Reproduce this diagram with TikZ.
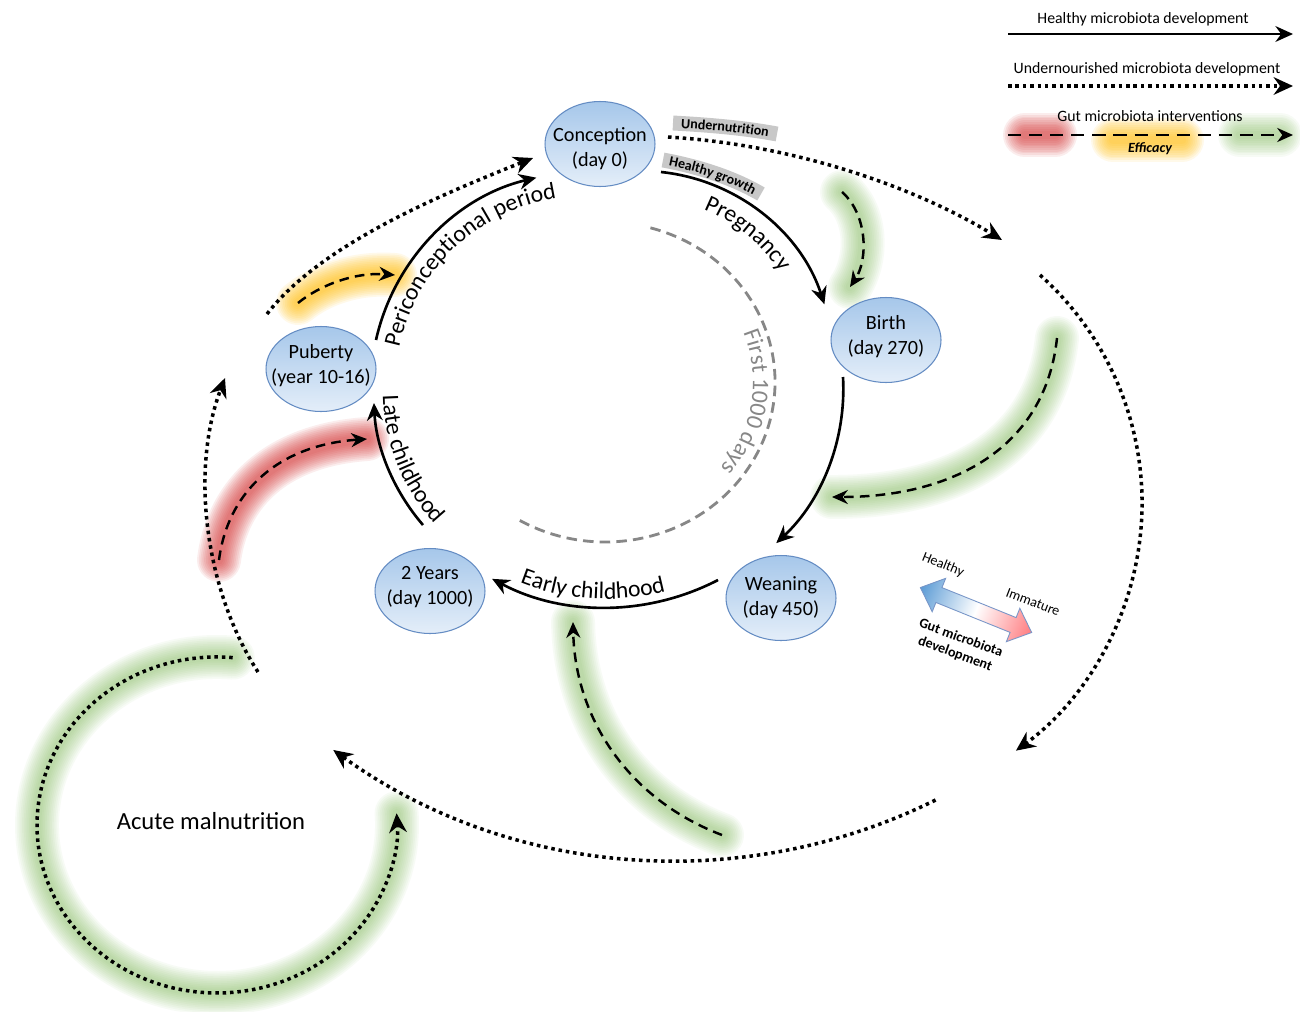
\documentclass[tikz,border=0pt]{standalone}
\usepackage{fontspec}
\setmainfont{Carlito}
\usetikzlibrary{arrows.meta,decorations.text,calc,shapes.geometric}
\pgfdeclarelayer{glow}
\pgfsetlayers{glow,main}
\definecolor{nodetop}{RGB}{166,199,234}
\definecolor{nodebot}{RGB}{228,238,249}
\definecolor{nodeline}{RGB}{100,140,195}
\definecolor{glowgreen}{RGB}{110,178,70}
\definecolor{glowred}{RGB}{213,47,47}
\definecolor{glowyellow}{RGB}{255,188,0}
\definecolor{bandgray}{RGB}{200,200,200}
\definecolor{thousand}{RGB}{135,135,135}
\definecolor{gradblue}{RGB}{91,155,213}
\definecolor{gradred}{RGB}{255,124,128}
\definecolor{gradline}{RGB}{120,150,200}
\newcommand\nodefont{\fontsize{11.5}{14.2}\selectfont}
\newcommand\curvefont{\fontsize{13.5}{16}\selectfont}
\newcommand\legfont{\fontsize{9}{11}\selectfont}
\newcommand\bandfont{\fontsize{8}{9}\selectfont\bfseries}
\newcommand\legsmall{\fontsize{8}{9.5}\selectfont}
\newcommand\acutefont{\fontsize{14}{17}\selectfont}
\newcommand\glowpath[3]{\foreach \w in {25,23,...,5} {\path[draw=#1, line width=\w pt, draw opacity=#2, line cap=round] #3;}}
\begin{document}
\begin{tikzpicture}[x=0.02cm,y=0.02cm,
 stage/.style={ellipse, minimum width=2.2cm, minimum height=1.7cm, inner sep=0pt, draw=nodeline, line width=0.6pt, top color=nodetop, bottom color=nodebot},
 stagetext/.style={align=center, font=\nodefont, inner sep=0pt},
 healthy/.style={line width=1.5pt, -{Stealth[length=10pt,width=9pt]}},
 under/.style={line width=2pt, dash pattern=on 2pt off 2.2pt, -{Stealth[length=11pt,width=10pt]}},
 interv/.style={line width=1.4pt, dash pattern=on 5.5pt off 3.5pt, -{Stealth[length=9pt,width=8pt]}},
 days/.style={draw=thousand, line width=1.6pt, dash pattern=on 6pt off 3.5pt},
 band/.style={draw=bandgray, line width=8.5pt},
]
\useasboundingbox (0,0) rectangle (1300,-1011);

% ---------- stages
\node[stage] (conc) at (600,-144) {};
\node[stage] (birth) at (886,-340) {};
\node[stage] (wean) at (781,-598) {};
\node[stage] (two) at (430,-591) {};
\node[stage] (pub) at (321,-369) {};
\node[stagetext, yshift=-2.6pt] (conct) at (conc) {Conception\\(day 0)};
\node[stagetext, yshift=2.2pt] (birtht) at (birth) {Birth\\(day 270)};
\node[stagetext] (weant) at (wean) {Weaning\\(day 450)};
\node[stagetext, yshift=2.2pt] (twot) at (two) {2 Years\\(day 1000)};
\node[stagetext, yshift=1.7pt] (pubt) at (pub) {Puberty\\(year 10-16)};

% ---------- coordinates
\coordinate (a1s) at ($(pub)+(55,29)$);
\coordinate (a2s) at ($(conc)+(61,-28)$);
\coordinate (a3s) at ($(birth)+(-43,-37)$);
\coordinate (a4s) at ($(wean)+(-63,18)$);
\coordinate (a5s) at ($(two)+(-7,66)$);
\coordinate (u1s) at ($(conc)+(68,7)$);
\coordinate (u1e) at (1002,-240);
\coordinate (u2s) at (1040,-275);
\coordinate (u3s) at (935.6,-800);
\coordinate (u4s) at (258,-672);
\coordinate (u4e) at (225,-378);
\coordinate (u5s) at (267,-314);
\coordinate (u5e) at ($(conc)+(-67,-14)$);
\coordinate (u6s) at (232.7,-657.6);
\coordinate (d1s) at (298,-303);
\coordinate (d1e) at (395,-275);
\coordinate (d2s) at (219,-560);
\coordinate (d2e) at (367,-439);
\coordinate (d3s) at (842,-192);
\coordinate (d3e) at (850,-287);
\coordinate (d4s) at (1057,-338);
\coordinate (d4e) at (832,-497);
\coordinate (d5s) at (722,-835);
\coordinate (d5e) at (573,-622);
\coordinate (fd) at (605,-382);

% ---------- background and glows
\begin{pgfonlayer}{glow}
\fill[white] (0,0) rectangle (1300,-1011);
\glowpath{glowyellow}{0.085}{(d1s) .. controls (320,-285) and (355,-272) .. (d1e)}
\glowpath{glowred}{0.085}{(d2s) .. controls (228,-490) and (280,-445) .. (d2e)}
\glowpath{glowgreen}{0.05}{(d3s) .. controls (868,-215) and (868,-260) .. (d3e)}
\glowpath{glowgreen}{0.05}{(d4s) .. controls (1045,-450) and (950,-497) .. (d4e)}
\glowpath{glowgreen}{0.05}{(d5s) .. controls (630,-800) and (575,-720) .. (d5e)}
\glowpath{glowgreen}{0.05}{(u6s) arc[start angle=85,end angle=364,x radius=180,y radius=168]}
\glowpath{glowred}{0.085}{(1025,-135) -- (1055,-135)}
\glowpath{glowyellow}{0.085}{(1113,-140) -- (1182,-140)}
\glowpath{glowgreen}{0.05}{(1240,-135) -- (1280,-135)}
\end{pgfonlayer}

% ---------- grey bands
\draw[band] (673,-123) .. controls (710,-125) and (745,-128) .. (777,-134);
\path[decorate, decoration={text along path, text align=center, raise=-2.6pt, text={|\bandfont|Undernutrition}}] (673,-123) .. controls (710,-125) and (745,-128) .. (777,-134);
\draw[band] (663,-160) .. controls (695,-166) and (730,-176) .. (761,-194);
\path[decorate, decoration={text along path, text align=center, raise=-2.6pt, text={|\bandfont|Healthy growth}}] (663,-160) .. controls (695,-166) and (730,-176) .. (761,-194);

% ---------- first 1000 days
\draw[days] ([shift={(74.5:170 and 160)}]fd) arc[start angle=74.5,end angle=-122,x radius=170,y radius=160];
\path[decorate, decoration={text along path, text align=left, text color=thousand, text={|\curvefont|First 1000 days}}] ([shift={(21:148 and 138)}]fd) arc[start angle=21,end angle=-80,x radius=148,y radius=138];

% ---------- healthy cycle
\draw[healthy] (a1s) arc[start angle=167.4,end angle=103.3,radius=215];
\draw[healthy] (a2s) arc[start angle=84,end angle=18,radius=193];
\draw[healthy] (a3s) arc[start angle=3.2,end angle=-47,radius=211];
\draw[healthy] (a4s) arc[start angle=-62.6,end angle=-118,radius=243];
\draw[healthy] (a5s) arc[start angle=220.8,end angle=183,radius=203];

\path[decorate, decoration={text along path, text align=left, text={|\curvefont|Periconceptional period}}] ([shift={(168:191)}]586,-387) arc[start angle=168,end angle=90,radius=191];
\path[decorate, decoration={text along path, text align=left, text={|\curvefont|Pregnancy}}] ([shift={(68:167)}]641,-364) arc[start angle=68,end angle=15,radius=167];
\path[decorate, decoration={text along path, text align=left, text={|\curvefont|Early childhood}}] ([shift={(-111.5:235)}]606,-364) arc[start angle=-111.5,end angle=-55,radius=235];
\path[decorate, decoration={text along path, text align=left, text={|\curvefont|Late childhood}}] ([shift={(181:194)}]577,-392) arc[start angle=181,end angle=240,radius=194];

% ---------- undernourished paths
\draw[under] (u1s) .. controls (800,-145) and (920,-190) .. (u1e);
\draw[under] (u2s) arc[start angle=48.2,end angle=-54,radius=306];
\draw[under] (u3s) arc[start angle=-63.7,end angle=-125.8,radius=586];
\draw[under] (u4s) .. controls (205,-590) and (190,-470) .. (u4e);
\draw[under] (u5s) .. controls (320,-245) and (440,-195) .. (u5e);
\draw[under] (u6s) arc[start angle=85,end angle=364,x radius=180,y radius=168];

% ---------- interventions
\draw[interv] (d1s) .. controls (320,-285) and (355,-272) .. (d1e);
\draw[interv] (d2s) .. controls (228,-490) and (280,-445) .. (d2e);
\draw[interv] (d3s) .. controls (868,-215) and (868,-260) .. (d3e);
\draw[interv] (d4s) .. controls (1045,-450) and (950,-497) .. (d4e);
\draw[interv] (d5s) .. controls (630,-800) and (575,-720) .. (d5e);

\node[font=\acutefont] (acute) at (211,-821) {Acute malnutrition};

% ---------- gradient arrow
\begin{scope}[transform canvas={shift={(976,-610)},rotate=-22}]
\draw[left color=gradblue, right color=gradred, middle color=white, draw=gradline, line width=0.5pt]
 (-60,0) -- (-40,18) -- (-40,8) -- (40,8) -- (40,18) -- (60,0) -- (40,-18) -- (40,-8) -- (-40,-8) -- (-40,-18) -- cycle;
\end{scope}
\node[font=\legsmall, rotate=-22] (ghealthy) at (943,-565) {Healthy};
\node[font=\legsmall, rotate=-21] (gimm) at (1033,-602) {Immature};
\node[font=\legsmall\bfseries, rotate=-20, align=center] (gdev) at (958,-646) {Gut microbiota\\development};

% ---------- legend
\coordinate (l1s) at (1008,-34); \coordinate (l1e) at (1293,-34);
\coordinate (l2s) at (1008,-86); \coordinate (l2e) at (1293,-86);
\coordinate (l3s) at (1008,-135); \coordinate (l3e) at (1293,-135);
\node[font=\legfont] (lg1) at (1143,-19) {Healthy microbiota development};
\draw[line width=1.4pt, -{Stealth[length=10pt,width=9pt]}] (l1s) -- (l1e);
\node[font=\legfont] (lg2) at (1147,-69) {Undernourished microbiota development};
\draw[under] (l2s) -- (l2e);
\node[font=\legfont] (lg3) at (1150,-116) {Gut microbiota interventions};
\draw[interv, dash pattern=on 7.5pt off 4.5pt] (l3s) -- (l3e);
\node[font=\legsmall\bfseries\itshape] (eff) at (1150,-149) {Efficacy};
\end{tikzpicture}
\end{document}
